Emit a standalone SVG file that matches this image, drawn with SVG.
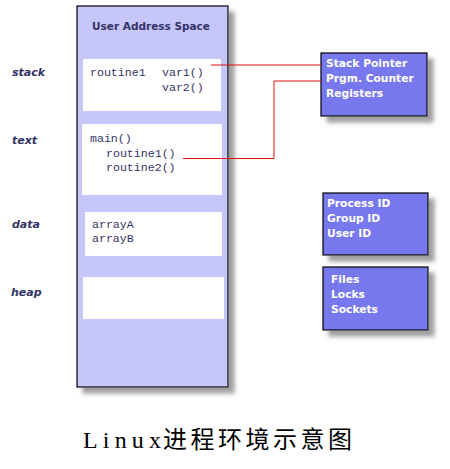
<svg xmlns="http://www.w3.org/2000/svg" width="450" height="469" viewBox="0 0 450 469">
  <defs>
    <filter id="shadow" x="-20%" y="-20%" width="150%" height="150%">
      <feGaussianBlur in="SourceAlpha" stdDeviation="2"/>
      <feOffset dx="6" dy="6" result="b"/>
      <feFlood flood-color="#888888" flood-opacity="0.8"/>
      <feComposite in2="b" operator="in" result="s"/>
      <feMerge><feMergeNode in="s"/><feMergeNode in="SourceGraphic"/></feMerge>
    </filter>
  </defs>
  <style>
    .space { fill: #c6c6fa; stroke: #000; stroke-width: 1.2; }
    .seg { fill: #ffffff; stroke: none; }
    .blue { fill: #7878ee; stroke: #000; stroke-width: 1.2; }
    .lbl { font-family: "DejaVu Sans", Verdana, sans-serif; font-weight: bold; font-style: italic; font-size: 11px; fill: #333366; }
    .hdr { font-family: "DejaVu Sans", Verdana, sans-serif; font-weight: bold; font-size: 10.5px; fill: #333366; }
    .code { font-family: "Liberation Mono", "Courier New", monospace; font-size: 11.6px; fill: #333366; }
    .wt { font-family: "DejaVu Sans", Verdana, sans-serif; font-weight: bold; font-size: 10.7px; fill: #ffffff; }
    .conn { fill: none; stroke: #dd1111; stroke-width: 1; }
    .title { font-family: "Liberation Serif", "Noto Sans CJK SC", serif; font-size: 24px; fill: #000; }
  </style>
  <rect width="450" height="469" fill="#ffffff"/>

  <g id="address-space">
    <rect class="space" x="77" y="6" width="151" height="381" filter="url(#shadow)"/>
    <text class="hdr" x="151" y="30" text-anchor="middle">User Address Space</text>
  </g>

  <g id="stack">
    <text class="lbl" x="12" y="76">stack</text>
    <rect class="seg" x="83" y="59" width="138" height="52"/>
    <text class="code" x="90" y="76">routine1</text>
    <text class="code" x="162" y="76">var1()</text>
    <text class="code" x="162" y="91">var2()</text>
  </g>

  <g id="text">
    <text class="lbl" x="12" y="144">text</text>
    <rect class="seg" x="82" y="124" width="140" height="71"/>
    <text class="code" x="90" y="142">main()</text>
    <text class="code" x="106" y="157">routine1()</text>
    <text class="code" x="106" y="171">routine2()</text>
  </g>

  <g id="data">
    <text class="lbl" x="12" y="228">data</text>
    <rect class="seg" x="85" y="212" width="137" height="44"/>
    <text class="code" x="92" y="228">arrayA</text>
    <text class="code" x="92" y="242">arrayB</text>
  </g>

  <g id="heap">
    <text class="lbl" x="11" y="296">heap</text>
    <rect class="seg" x="83" y="277" width="141" height="42"/>
  </g>

  <g id="registers">
    <rect class="blue" x="321" y="53" width="106" height="63" filter="url(#shadow)"/>
    <text class="wt" x="326" y="67">Stack Pointer</text>
    <text class="wt" x="326" y="82">Prgm. Counter</text>
    <text class="wt" x="326" y="97">Registers</text>
  </g>

  <g id="ids">
    <rect class="blue" x="323" y="193" width="105" height="62" filter="url(#shadow)"/>
    <text class="wt" x="327" y="207">Process ID</text>
    <text class="wt" x="327" y="222">Group ID</text>
    <text class="wt" x="327" y="237">User ID</text>
  </g>

  <g id="resources">
    <rect class="blue" x="323" y="267" width="105" height="63" filter="url(#shadow)"/>
    <text class="wt" x="331" y="283">Files</text>
    <text class="wt" x="331" y="298">Locks</text>
    <text class="wt" x="331" y="313">Sockets</text>
  </g>

  <g id="connectors">
    <polyline class="conn" points="211,65 321,65"/>
    <polyline class="conn" points="183,158.5 274,158.5 274,81 321,81"/>
  </g>

  <g id="caption">
    <text class="title" y="448"><tspan x="83" textLength="78" lengthAdjust="spacing">Linux</tspan><tspan x="163" textLength="189" lengthAdjust="spacing">进程环境示意图</tspan></text>
  </g>
</svg>
